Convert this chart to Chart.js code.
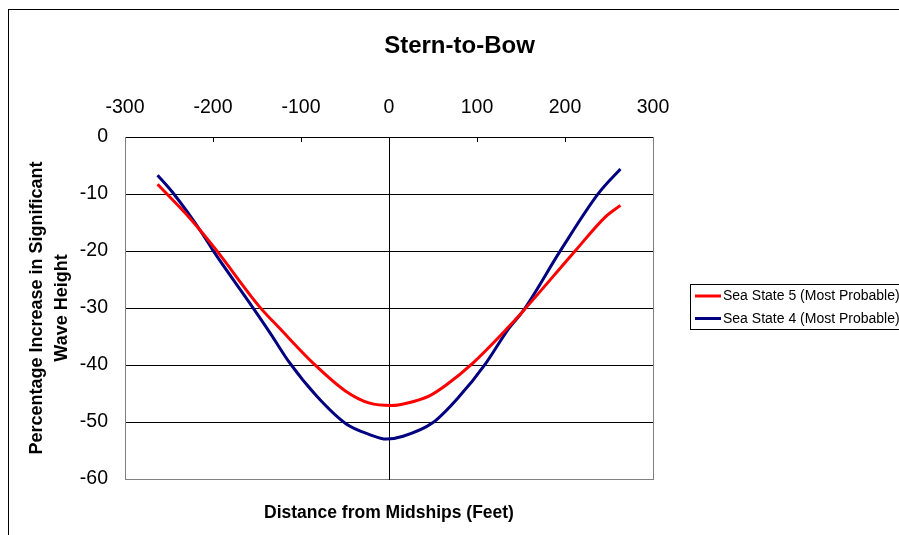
<!DOCTYPE html>
<html>
<head>
<meta charset="utf-8">
<title>Stern-to-Bow</title>
<script src="https://cdn.jsdelivr.net/npm/chart.js@4.4.1/dist/chart.umd.min.js"></script>
<style>
  html, body { margin: 0; padding: 0; background: #fff; }
  #wrap { width: 899px; height: 535px; }
</style>
</head>
<body>
<div id="wrap"><canvas id="chart" width="899" height="535"></canvas></div>
<script>
// Distance from midships (ft) vs % change in significant wave height
const ss5Distance = [-263, -226, -196, -147, -124, -86, -50, -22, 3, 20, 46, 65, 95, 136, 152, 212, 246, 263];
const ss5Change = [-8.3, -14.3, -19.9, -29.8, -33.6, -39.7, -44.5, -46.7, -47.1, -46.7, -45.4, -43.5, -39.7, -33.3, -30.6, -19.9, -14.0, -12.0];

const ss4Distance = [-263, -246, -211, -200, -158, -135, -113, -82, -49, -22, -3, 16, 50, 80, 110, 136, 152, 195, 238, 263];
const ss4Change = [-6.7, -9.7, -17.2, -19.9, -29.2, -34.4, -39.6, -45.5, -50.3, -52.2, -53.0, -52.5, -50.1, -45.5, -39.7, -33.6, -30.6, -19.9, -9.9, -5.6];

const seriesLabels = ['Sea State 5 (Most Probable)', 'Sea State 4 (Most Probable)'];
const seriesColors = ['#ff0000', '#000080'];

const xRange = [-300, 300, 100];  // min, max, step
const yRange = [-60, 0, 10];

const FONT = "'Liberation Sans', Arial, sans-serif";
Chart.defaults.font.family = FONT;
Chart.defaults.color = '#000';

const toPoints = (xs, ys) => xs.map((x, i) => ({ x, y: ys[i] }));

// outer chart frame (right/bottom edges fall outside the picture)
const frame = {
  id: 'frame',
  beforeDraw(chart) {
    const ctx = chart.ctx;
    ctx.save();
    ctx.strokeStyle = '#000';
    ctx.lineWidth = 1;
    ctx.strokeRect(8.5, 9.5, 1000, 1000);
    ctx.restore();
  },
};

// Excel-style boxed legend
const boxedLegend = {
  id: 'boxedLegend',
  afterDraw(chart) {
    const ctx = chart.ctx;
    ctx.save();
    ctx.fillStyle = '#fff';
    ctx.fillRect(690.5, 284.5, 240, 45);
    ctx.strokeStyle = '#000';
    ctx.lineWidth = 1;
    ctx.strokeRect(690.5, 284.5, 240, 45);
    ctx.font = '14px ' + FONT;
    ctx.textBaseline = 'middle';
    chart.data.datasets.forEach((ds, i) => {
      const y = 296 + i * 22.5;
      ctx.strokeStyle = ds.borderColor;
      ctx.lineWidth = 3;
      ctx.beginPath();
      ctx.moveTo(695, y);
      ctx.lineTo(721, y);
      ctx.stroke();
      ctx.fillStyle = '#000';
      ctx.fillText(ds.label, 723, y + 0.5);
    });
    ctx.restore();
  },
};

new Chart(document.getElementById('chart'), {
  type: 'scatter',
  data: {
    datasets: [
      {
        label: seriesLabels[0],
        data: toPoints(ss5Distance, ss5Change),
        borderColor: seriesColors[0],
        backgroundColor: seriesColors[0],
      },
      {
        label: seriesLabels[1],
        data: toPoints(ss4Distance, ss4Change),
        borderColor: seriesColors[1],
        backgroundColor: seriesColors[1],
      },
    ].map((d) => ({ ...d, showLine: true, pointRadius: 0, borderWidth: 3, cubicInterpolationMode: 'monotone' })),
  },
  options: {
    responsive: false,
    animation: false,
    layout: { padding: { left: 20, right: 0, top: 0, bottom: 0 } },
    plugins: {
      legend: { display: false },
      tooltip: { enabled: false },
      title: {
        display: true,
        text: 'Stern-to-Bow',
        color: '#000',
        font: { size: 24, weight: 'bold' },
        padding: { top: 32, bottom: 9 },
      },
    },
    scales: {
      x: {
        type: 'linear',
        position: 'top',
        min: xRange[0],
        max: xRange[1],
        ticks: { stepSize: xRange[2], padding: 22.6, font: { size: 19.5 }, color: '#000' },
        grid: { drawOnChartArea: false, drawTicks: true, tickLength: -5, tickColor: '#000' },
        border: { color: '#000' },
        afterFit(s) { s.height = 67.2; },
      },
      xb: {
        type: 'linear',
        axis: 'x',
        position: 'bottom',
        min: xRange[0],
        max: xRange[1],
        ticks: { display: false },
        grid: { display: false },
        border: { color: '#808080' },
        title: {
          display: true,
          text: 'Distance from Midships (Feet)',
          color: '#000',
          font: { size: 17.5, weight: 'bold' },
          padding: { top: 0, bottom: 11 },
        },
        afterFit(s) { s.height = 56; },
      },
      y: {
        type: 'linear',
        position: 'left',
        min: yRange[0],
        max: yRange[1],
        ticks: { stepSize: yRange[2], padding: 17, font: { size: 19.5 }, color: '#000' },
        grid: {
          drawTicks: false,
          color: (c) => (c.tick && c.tick.value === yRange[0] ? '#808080' : '#000'),
        },
        border: { color: '#808080' },
        title: {
          display: true,
          text: ['Percentage Increase in Significant', 'Wave Height'],
          color: '#000',
          font: { size: 18, weight: 'bold', lineHeight: 1.4 },
          padding: { top: 4, bottom: 0 },
        },
        afterFit(s) { s.width = 105; },
      },
      // axis crossing at midships
      yc: {
        type: 'linear',
        axis: 'y',
        position: { x: 0 },
        min: yRange[0],
        max: yRange[1],
        ticks: { display: false, stepSize: yRange[2] },
        grid: { drawOnChartArea: false, drawTicks: true, tickLength: 4, color: '#000' },
        border: { color: '#000' },
      },
      // right edge of plot area, leaves room for the legend
      r: {
        type: 'linear',
        axis: 'y',
        position: 'right',
        ticks: { display: false },
        grid: { display: false },
        border: { color: '#808080' },
        afterFit(s) { s.width = 246; },
      },
    },
  },
  plugins: [frame, boxedLegend],
});
</script>
</body>
</html>
